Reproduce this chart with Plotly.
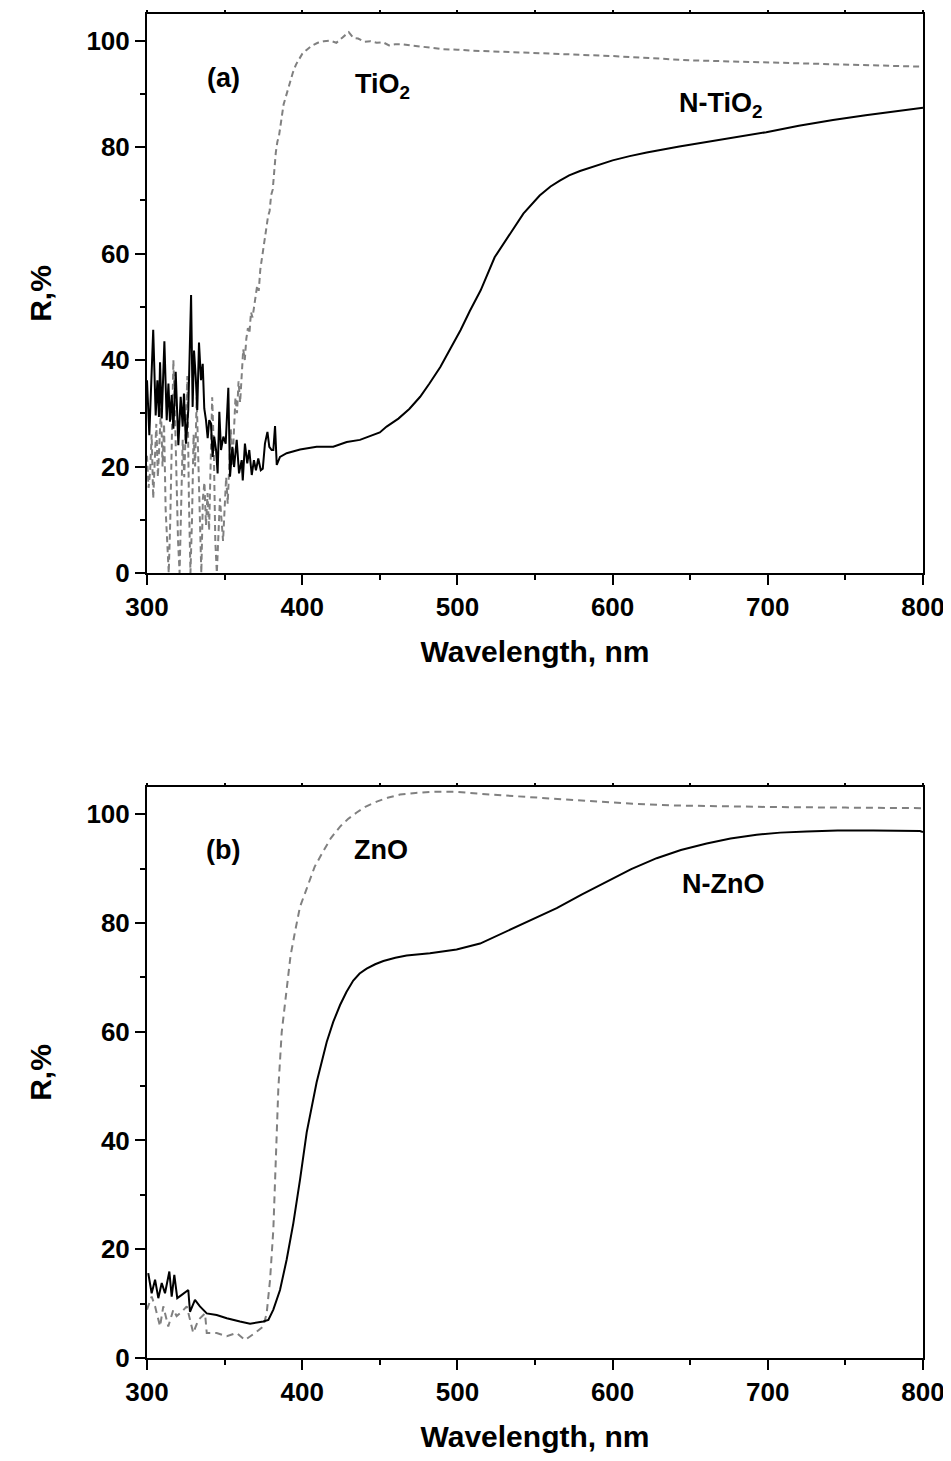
import plotly.graph_objects as go

# ---------- Panel (a): TiO2 / N-TiO2 ----------
tio2_wl = [300, 301, 302, 303, 304, 305, 306, 307, 308, 309, 310, 311, 312, 313, 314, 315,
           316, 317, 318, 319, 320, 321, 322, 323, 324, 325, 326, 327, 328, 329, 330, 331,
           332, 333, 334, 335, 336, 337, 338, 339, 340, 341, 342, 343, 344, 345, 346, 347,
           348, 349, 350, 351, 352, 353, 354, 355, 356, 357, 358, 359, 360, 361, 362, 363,
           364, 365, 366, 367, 368, 369, 370, 371, 372, 373, 374, 375, 376, 377, 378, 379,
           380, 381, 382, 383, 384, 385, 386, 387, 388, 389, 390, 392, 394, 396, 398, 400,
           403, 406, 410, 414, 418, 422, 426, 430, 433, 436, 440, 444, 448, 452, 456, 460,
           465, 470, 480, 490, 500, 510, 530, 550, 575, 600, 625, 650, 675, 700, 725, 750,
           775, 800]
tio2_r = [22, 16, 19, 26, 14, 20, 28, 18, 24, 31, 20, 28, 12, 5, 0, 10,
          24, 40, 30, 18, 6, 0, 12, 25, 18, 30, 37, 14, 0, 10, 26, 20,
          33, 22, 8, 0, 14, 17, 9, 15, 8, 20, 33, 24, 6, 0, 8, 14,
          10, 6, 12, 18, 13, 22, 27, 20, 28, 33, 30, 36, 32, 38, 42, 40,
          44, 46, 45, 49, 48, 50, 52, 54, 53, 57, 59, 61, 63, 65, 67, 68,
          71, 72, 76, 79, 81, 82, 84, 86, 88, 89, 90, 92, 94, 95.5, 96.6, 97.5,
          98.3, 99.0, 99.6, 99.9, 100.0, 99.6, 100.6, 101.6, 100.5, 100.4, 99.8, 99.9, 99.6, 99.7, 99.1, 99.3,
          99.3, 99.1, 98.7, 98.4, 98.3, 98.1, 97.9, 97.7, 97.4, 97.1, 96.7, 96.3, 96.1, 95.9, 95.7, 95.5,
          95.3, 95.1]

ntio2_wl = [300, 301.5, 304, 305.6, 306.7, 307.7, 308.4, 309.5, 311.2, 312.7, 313.8, 314.8,
            315.9, 317, 318.5, 320.2, 321.7, 323, 323.8, 325.1, 326.6, 328.4, 329.4, 330.3,
            331.4, 332.4, 333.5, 334.8, 335.9, 336.9, 338, 339.1, 340.1, 341.2, 342.3, 343.3,
            344.5, 345.5, 346.6, 347.7, 349.2, 350.7, 352.4, 353.5, 355, 356.1, 357.8, 359.3,
            361, 361.7, 363.1, 364.6, 365.9, 367.5, 368.9, 370.2, 371.7, 373.3, 374.6, 376,
            377.6, 378.8, 380.3, 381.4, 382.5, 383.6, 385.7, 390, 398.6, 409.3, 420, 428.7,
            437.2, 445, 450, 454.4, 462, 469, 476, 482, 489, 495, 502, 508, 515, 524, 534,
            542.5, 553, 560, 566, 572, 579, 590, 600, 611, 622, 643, 656, 678, 699, 720,
            742, 763, 785, 800]
ntio2_r = [36.2, 25.9, 45.7, 29.6, 36.2, 29.3, 39.6, 29.0, 43.5, 28.7, 35.6, 28.4,
           33.4, 27.1, 37.8, 24.0, 33.1, 27.5, 33.7, 24.3, 30.6, 52.2, 31.2, 41.8,
           36.8, 30.6, 43.3, 36.2, 39.3, 30.9, 28.7, 25.3, 28.7, 28.1, 21.8, 25.6,
           23.1, 18.7, 30.3, 23.1, 25.6, 24.3, 34.8, 18.1, 23.7, 19.9, 25.0, 18.7,
           21.2, 17.4, 24.3, 20.6, 23.1, 18.4, 21.2, 19.3, 21.5, 19.3, 19.6, 24.3,
           26.5, 23.7, 23.1, 23.1, 27.6, 20.3, 21.8, 22.5, 23.2, 23.7, 23.7, 24.6,
           25.0, 25.8, 26.4, 27.5, 29.0, 30.8, 33.1, 35.6, 38.7, 41.9, 45.6, 49.2, 53.1, 59.3, 63.7,
           67.5, 70.9, 72.6, 73.7, 74.7, 75.5, 76.6, 77.5, 78.3, 79.0, 80.1, 80.7, 81.8, 82.8, 84.0,
           85.1, 86.0, 86.9, 87.4]

# ---------- Panel (b): ZnO / N-ZnO ----------
zno_wl = [300, 303, 305.2, 308.4, 310.5, 313.7, 317, 319.1, 322.4, 325.6, 329.8, 333.1,
          337.4, 338.5, 344.9, 351.4, 357.8, 363.1, 369.6, 374.9, 377.1, 379.3, 381.4,
          382.5, 383.6, 384.6, 386.8, 390, 392.5, 395.4, 398.6, 402.9, 408, 413.6, 418.5,
          424.4, 429.5, 435.1, 441, 448, 455, 463, 473, 484.5, 499.5, 521, 553, 585, 613,
          639, 670, 703.5, 750, 800]
zno_r = [8.9, 11.3, 9.5, 5.8, 9.5, 5.8, 8.9, 7.7, 8.5, 9.5, 4.6, 7.0,
         8.2, 4.6, 4.6, 4.0, 4.6, 3.3, 4.6, 5.8, 8.2, 14.4, 23.6,
         32.8, 41.5, 49.4, 59.9, 68.5, 74.0, 78.4, 83.0, 86.3, 90.3, 93.2, 95.6,
         97.7, 99.1, 100.3, 101.4, 102.3, 103.0, 103.6, 103.9, 104.1, 104.1, 103.6, 103.0, 102.5, 101.9,
         101.6, 101.4, 101.3, 101.2, 101.1]

nzno_wl = [300.8, 303, 305.2, 307.3, 309.5, 311.6, 314.4, 315.9, 317.6, 319.5, 322.4,
           326.6, 327.7, 330.9, 334.1, 338.5, 344.9, 351.4, 359.9, 366.4, 374.9, 378.2,
           381.4, 385.7, 390, 394.3, 398.6, 402.9, 409.3, 415.8, 420, 424.4, 428.5, 432.9,
           437, 441.5, 447, 452.3, 460, 467.3, 482.3, 499.5, 514.6, 531.7, 548, 564, 580,
           596.2, 612, 628.4, 644, 660.6, 676, 692.8, 708, 725, 745, 767.9, 798, 800]
nzno_r = [15.6, 11.9, 14.4, 11.0, 13.8, 11.9, 15.9, 11.3, 15.3, 11.0, 11.6,
          12.5, 8.5, 10.7, 9.5, 8.2, 7.9, 7.3, 6.7, 6.3, 6.7, 7.0,
          8.9, 12.5, 18.1, 24.8, 32.8, 41.5, 50.7, 58.1, 61.8, 64.9, 67.3, 69.4,
          70.7, 71.6, 72.4, 73.0, 73.6, 74.0, 74.4, 75.1, 76.2, 78.4, 80.5, 82.7, 85.2,
          87.6, 89.9, 91.9, 93.4, 94.6, 95.5, 96.2, 96.6, 96.8, 97.0, 97.0, 96.9, 96.7]

x_ticks = [300, 400, 500, 600, 700, 800]
x_top_ticks = [300, 350, 400, 450, 500, 550, 600, 650, 700, 750, 800]
y_ticks = [0, 20, 40, 60, 80, 100]

FONT = "Liberation Sans, Arial, sans-serif"
BLACK = "#000000"
GRAY = "#808080"

fig = go.Figure()

fig.add_trace(go.Scatter(x=tio2_wl, y=tio2_r, mode="lines", xaxis="x", yaxis="y",
                         line=dict(color=GRAY, width=2, dash="6px,4px"), showlegend=False))
fig.add_trace(go.Scatter(x=ntio2_wl, y=ntio2_r, mode="lines", xaxis="x", yaxis="y",
                         line=dict(color=BLACK, width=2), showlegend=False))
fig.add_trace(go.Scatter(x=zno_wl, y=zno_r, mode="lines", xaxis="x2", yaxis="y2",
                         line=dict(color=GRAY, width=2, dash="7px,5px"), showlegend=False))
fig.add_trace(go.Scatter(x=nzno_wl, y=nzno_r, mode="lines", xaxis="x2", yaxis="y2",
                         line=dict(color=BLACK, width=2), showlegend=False))
# empty traces so the top tick-only axes are drawn
fig.add_trace(go.Scatter(x=[], y=[], xaxis="x3", yaxis="y", showlegend=False, hoverinfo="skip"))
fig.add_trace(go.Scatter(x=[], y=[], xaxis="x4", yaxis="y2", showlegend=False, hoverinfo="skip"))

def xaxis(anchor):
    return dict(
        range=[300, 800], tickvals=x_ticks, ticks="outside", ticklen=10, tickwidth=2,
        tickcolor=BLACK, showline=True, linewidth=2, linecolor=BLACK, mirror=True,
        showgrid=False, zeroline=False, anchor=anchor, automargin=False,
        ticklabeloverflow="allow",
        minor=dict(ticks="outside", ticklen=5, tickwidth=2, tickcolor=BLACK, dtick=50,
                   tick0=300, showgrid=False),
        tickfont=dict(family=FONT, size=26, color=BLACK, weight="bold"),
        title=dict(text="<b>Wavelength, nm</b>", standoff=20,
                   font=dict(family=FONT, size=30, color=BLACK)),
    )

def xtop(overlay, anchor):
    return dict(
        range=[300, 800], tickvals=x_top_ticks, ticks="outside", ticklen=3, tickwidth=2,
        tickcolor=BLACK, showticklabels=False, showline=False, showgrid=False,
        zeroline=False, side="top", overlaying=overlay, anchor=anchor, automargin=False,
    )

def yaxis(domain, anchor):
    return dict(
        domain=domain, range=[0, 105], tickvals=y_ticks, ticks="outside", ticklen=10,
        tickwidth=2, tickcolor=BLACK, showline=True, linewidth=2, linecolor=BLACK,
        mirror=True, showgrid=False, zeroline=False, anchor=anchor, automargin=False,
        minor=dict(ticks="outside", ticklen=5, tickwidth=2, tickcolor=BLACK, dtick=10,
                   tick0=0, showgrid=False),
        tickfont=dict(family=FONT, size=26, color=BLACK, weight="bold"),
        title=dict(text="<b>R,%</b>", standoff=26,
                   font=dict(family=FONT, size=30, color=BLACK)),
    )

top_dom = [0.5841, 1.0]
bot_dom = [0.0, 0.4249]

# the page adds an 8px body margin, so the figure is offset by 8px
fig.update_layout(
    width=943, height=1445,
    margin=dict(l=139, r=28, t=6, b=95, autoexpand=False),
    paper_bgcolor="white", plot_bgcolor="white",
    xaxis=xaxis("y"),
    yaxis=yaxis(top_dom, "x"),
    xaxis2=xaxis("y2"),
    yaxis2=yaxis(bot_dom, "x2"),
    xaxis3=xtop("x", "y"),
    xaxis4=xtop("x2", "y2"),
)

ann_font = dict(family=FONT, size=27, color=BLACK)
annotations = [
    dict(text="<b>(a)</b>", x=349, y=93, xref="x", yref="y"),
    dict(text="<b>TiO<sub>2</sub></b>", x=452, y=91.5, xref="x", yref="y"),
    dict(text="<b>N-TiO<sub>2</sub></b>", x=670, y=88, xref="x", yref="y"),
    dict(text="<b>(b)</b>", x=349, y=93.4, xref="x2", yref="y2"),
    dict(text="<b>ZnO</b>", x=451, y=93.4, xref="x2", yref="y2"),
    dict(text="<b>N-ZnO</b>", x=671, y=87.1, xref="x2", yref="y2"),
]
for a in annotations:
    fig.add_annotation(showarrow=False, font=ann_font, **a)

fig.write_html("out.html")
